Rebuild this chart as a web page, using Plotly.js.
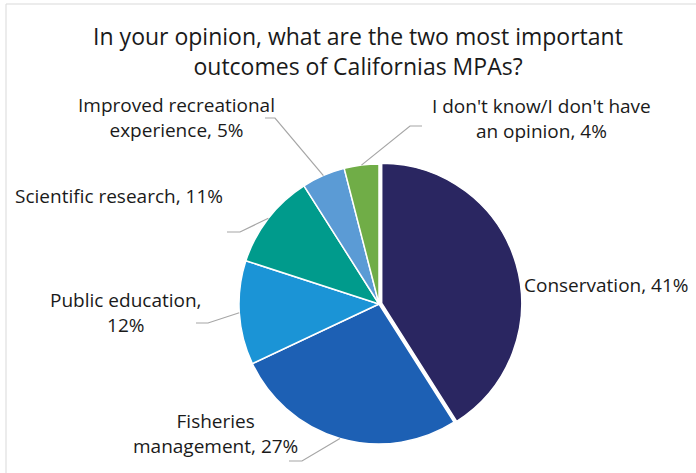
<!DOCTYPE html>
<html>
<head>
<meta charset="utf-8">
<script src="https://cdn.plot.ly/plotly-3.0.1.min.js"></script>
<style>
html,body{margin:0;padding:0;background:#fff;}
#chart{width:696px;height:473px;}
</style>
</head>
<body>
<div id="chart"></div>
<script>
// ---- data ----
const categories = ['Conservation', 'Fisheries management', 'Public education', 'Scientific research', 'Improved recreational experience', "I don't know/I don't have an opinion"];
const values = [41, 27, 12, 11, 5, 4];
const wrappedLabels = ['Conservation', 'Fisheries<br>management', 'Public education,<br>', 'Scientific research', 'Improved recreational<br>experience', "I don't know/I don't have<br>an opinion"];
const colors = ['#2a2661', '#1d60b4', '#1b94d6', '#009b8c', '#5b9bd5', '#70ad47'];
const titleText = 'In your opinion, what are the two most important<br>outcomes of Californias MPAs?';

// ---- layout (pixels) ----
const W = 696, H = 473;
const cx = 379, cy = 304, r = 140, pullFrac = 0.02;
const labelPos = [[606, 285], [215, 433], [126, 312], [119, 196], [176, 118], [541, 119]];
const leaderElbow = [null, [302, 461], [208, 323], [240, 232], [275, 118], [410, 126]];
const leaderEnd = [null, [289, 461], [196, 323], [227, 232], [265, 118], [422, 126]];
const FONT = '"Open Sans", "Noto Sans", sans-serif';

const px = x => x / W;
const py = y => 1 - y / H;

const R = r * (1 + pullFrac);
const total = values.reduce((a, b) => a + b, 0);

const annotations = [];
const shapes = [];
let cum = 0;
values.forEach((v, i) => {
  const mid = (cum + v / 2) / total * 2 * Math.PI;
  cum += v;
  const sep = wrappedLabels[i].endsWith('<br>') ? '' : ', ';
  annotations.push({
    xref: 'paper', yref: 'paper',
    x: px(labelPos[i][0]), y: py(labelPos[i][1]),
    xanchor: 'center', yanchor: 'middle', align: 'center',
    text: wrappedLabels[i] + sep + v + '%',
    showarrow: false,
    font: {family: FONT, size: 19, color: '#1a1a1a'}
  });
  if (leaderElbow[i]) {
    const sx = cx + r * Math.sin(mid), sy = cy - r * Math.cos(mid);
    shapes.push({
      type: 'path', xref: 'paper', yref: 'paper',
      path: `M ${px(sx)} ${py(sy)} L ${px(leaderElbow[i][0])} ${py(leaderElbow[i][1])} L ${px(leaderEnd[i][0])} ${py(leaderEnd[i][1])}`,
      line: {color: '#a6a6a6', width: 1.2}
    });
  }
});
// chart frame
shapes.push({type: 'rect', xref: 'paper', yref: 'paper', x0: px(6), x1: px(W + 5), y0: py(H + 5), y1: py(4), line: {color: '#d9d9d9', width: 1}});

const trace = {
  type: 'pie',
  labels: categories,
  values: values,
  sort: false,
  direction: 'clockwise',
  rotation: 0,
  pull: values.map((v, i) => i === 0 ? pullFrac : 0),
  marker: {colors: colors, line: {color: '#ffffff', width: 1.5}},
  textinfo: 'none',
  hoverinfo: 'label+percent',
  domain: {x: [px(cx - R), px(cx + R)], y: [py(cy + R), py(cy - R)]},
  showlegend: false
};

const layout = {
  width: W, height: H,
  margin: {l: 0, r: 0, t: 0, b: 0},
  paper_bgcolor: '#ffffff',
  title: {
    text: titleText,
    x: px(358), xanchor: 'center',
    y: py(45), yanchor: 'top', yref: 'container',
    font: {family: FONT, size: 23, color: '#1a1a1a'}
  },
  annotations: annotations,
  shapes: shapes,
  showlegend: false
};

Plotly.newPlot('chart', [trace], layout, {displayModeBar: false, staticPlot: true});
</script>
</body>
</html>
